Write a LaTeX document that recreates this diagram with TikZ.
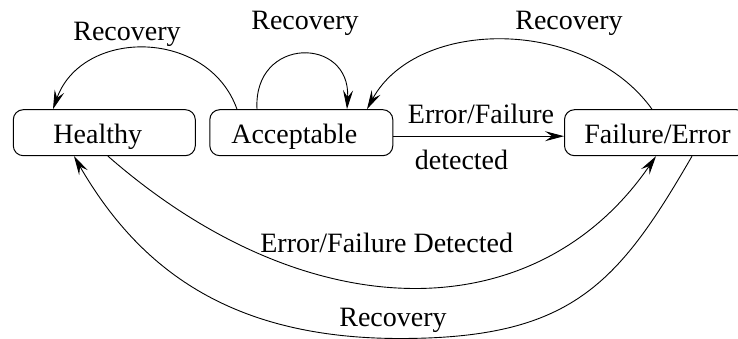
\documentclass[tikz,border=0pt]{standalone}
\usepackage{fontspec}
\setmainfont{Liberation Serif}
\usetikzlibrary{arrows.meta}

\tikzset{
  state/.style={draw, line width=1pt, rounded corners=10pt,
    minimum width=182pt, minimum height=46pt, inner sep=0pt,
    text height=27pt, text depth=5.8pt},
  trans/.style={line width=0.9pt, -{Stealth[length=19pt,width=10pt,inset=7pt]}},
  lbl/.style={anchor=base, inner sep=0pt},
}

\begin{document}
\begin{tikzpicture}[x=1pt, y=1pt, font=\fontsize{28}{33}\selectfont]
  \clip (0,0) rectangle (738,339);
  \useasboundingbox (0,0) rectangle (738,339);

  % states
  \node[state] (healthy) at (104.3,206.3) {\hspace*{-13pt}Healthy};
  \node[state, minimum width=183pt] (accept) at (301.3,206.3) {\hspace*{-14pt}Acceptable};
  \node[state] (fail) at (655.5,206.3) {\hspace*{4pt}Failure/Error};

  % transitions along the top
  \draw[trans] ([xshift=-64.3pt]accept.north)
    .. controls (208,311) and (82,311) .. ([xshift=-51.3pt]healthy.north);
  \draw[trans] ([xshift=-44.3pt]accept.north)
    .. controls (253,303) and (351,303) .. ([xshift=45.7pt]accept.north);
  \draw[trans] ([xshift=-3.5pt]fail.north)
    .. controls (586,322) and (417,322) .. ([xshift=65.7pt]accept.north);

  % direct transition
  \draw[trans] ([yshift=-3.5pt]accept.east) -- ([yshift=-3.5pt]fail.west);

  % transitions along the bottom
  \draw[trans] ([xshift=3.7pt]healthy.south)
    .. controls (308,8) and (536,8) .. ([xshift=0.5pt]fail.south);
  \coordinate (low) at (400,0.5);
  \draw[trans] ([xshift=36.5pt]fail.south)
    .. controls (617,53) and (570,0.5) .. (low)
    .. controls (230,0.5) and (139,70.4) .. ([xshift=-30.3pt]healthy.south);

  % labels
  \node[lbl] (l1) at (127,298) {Recovery};
  \node[lbl] (l2) at (305,309.5) {Recovery};
  \node[lbl] (l3) at (569,309) {Recovery};
  \node[lbl] (l4) at (481,215.7) {Error/Failure};
  \node[lbl] (l5) at (461.5,169) {detected};
  \node[lbl] (l6) at (386.7,86.7) {Error/Failure Detected};
  \node[lbl] (l7) at (393,12.3) {Recovery};
\end{tikzpicture}
\end{document}
